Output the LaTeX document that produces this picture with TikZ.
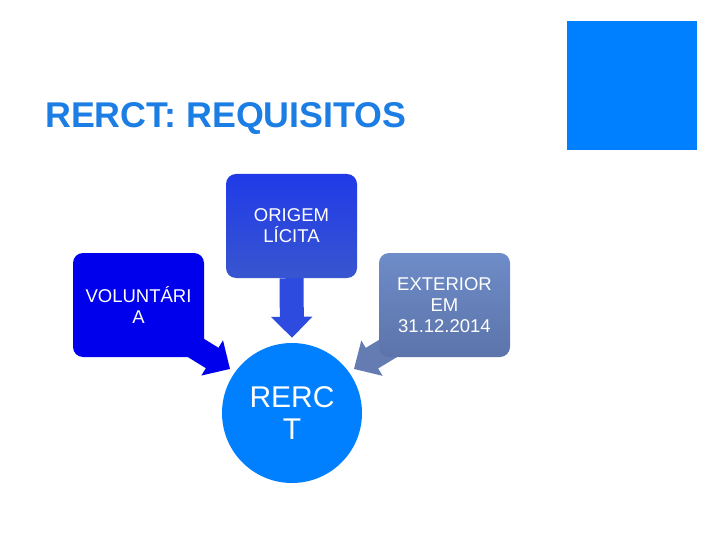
\documentclass[tikz,border=0pt]{standalone}
\usepackage{fontspec}
\setmainfont{Liberation Sans}
\usetikzlibrary{arrows.meta,backgrounds}
\definecolor{azul}{RGB}{0,128,255}
\definecolor{titulo}{RGB}{28,126,228}
\definecolor{origemtop}{RGB}{32,58,232}
\definecolor{origembot}{RGB}{56,86,208}
\definecolor{origemseta}{RGB}{45,75,222}
\definecolor{volunt}{RGB}{0,0,236}
\definecolor{exttop}{RGB}{110,140,200}
\definecolor{extbot}{RGB}{92,116,170}
\definecolor{extseta}{RGB}{100,124,178}

\begin{document}
\begin{tikzpicture}[x=1pt,y=-1pt,
    caixa/.style={rounded corners=10pt, minimum width=131pt, minimum height=104pt,
        inner sep=0pt, align=center, text=white, font=\fontsize{18.5}{21}\selectfont},
    seta/.style={line width=24pt, -{Triangle[length=21pt,width=40pt]}}]
    \useasboundingbox (0,0) rectangle (720,540);
    \fill[azul] (567,21) rectangle (697,150);
    \node[anchor=base west, inner sep=0pt, text=titulo,
        font=\fontsize{35.8}{40}\selectfont\bfseries] (titulo) at (45,128) {RERCT: REQUISITOS};
    \node[caixa, top color=origemtop, bottom color=origembot] (origem) at (291.5,226) {ORIGEM\\LÍCITA};
    \node[caixa, fill=volunt] (voluntaria) at (138.5,305) {VOLUNTÁRI\\A};
    \node[caixa, top color=exttop, bottom color=extbot] (exterior) at (444.5,305) {EXTERIOR\\EM\\31.12.2014};
    \node[circle, fill=azul, minimum size=140pt, inner sep=0pt, align=center, text=white,
        font=\fontsize{30}{32}\selectfont] (rerct) at (292,413) {RERC\\T};
    \begin{scope}[on background layer]
        \draw[seta, volunt] ([shift={(-16pt,14pt)}]voluntaria.south east) -- ([shift={(144.6:76pt)}]rerct.center);
        \draw[seta, extseta] ([shift={(18pt,14pt)}]exterior.south west) -- ([shift={(35.4:76pt)}]rerct.center);
    \end{scope}
    \draw[seta, origemseta] (origem.south) -- ([yshift=5pt]rerct.north);
\end{tikzpicture}
\end{document}
